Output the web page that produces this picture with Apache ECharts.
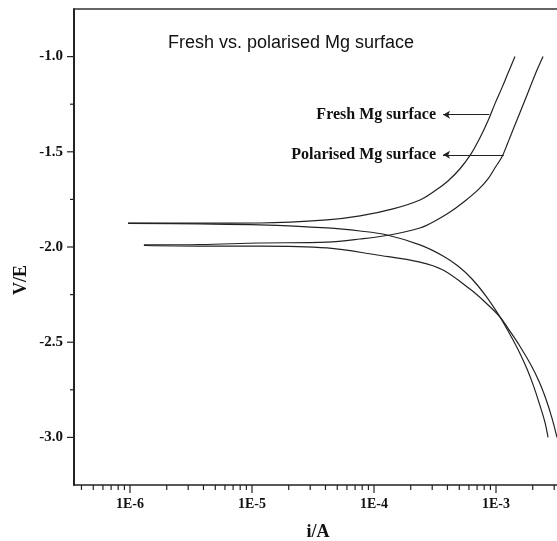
<!DOCTYPE html>
<html>
<head>
<meta charset="utf-8">
<script src="https://cdn.jsdelivr.net/npm/echarts@6/dist/echarts.min.js"></script>
<style>
html,body{margin:0;padding:0;background:#fff;}
#c{width:557px;height:541px;}
</style>
</head>
<body>
<div id="c"></div>
<script>
// ---------- chart data ----------
const titleText = 'Fresh vs. polarised Mg surface';
const xName = 'i/A';
const yName = 'V/E';
const xMin = 3.475e-7, xMax = 3.162e-3;
const yMin = -3.25, yMax = -0.75;

const xMajorTicks = [1e-6, 1e-5, 1e-4, 1e-3];
const xMinorTicks = [4e-7, 5e-7, 6e-7, 7e-7, 8e-7, 9e-7,
  2e-6, 3e-6, 4e-6, 5e-6, 6e-6, 7e-6, 8e-6, 9e-6,
  2e-5, 3e-5, 4e-5, 5e-5, 6e-5, 7e-5, 8e-5, 9e-5,
  2e-4, 3e-4, 4e-4, 5e-4, 6e-4, 7e-4, 8e-4, 9e-4,
  2e-3, 3e-3];
const yMajorTicks = [-3.0, -2.5, -2.0, -1.5, -1.0];
const yMinorTicks = [-2.75, -2.25, -1.75, -1.25];

// Fresh Mg surface
const freshAnodicI = [9.63e-7, 3.75e-6, 1.16e-5, 4.12e-5, 7.68e-5, 1.43e-4, 2.38e-4, 3.16e-4, 4.04e-4, 5.07e-4, 6.24e-4, 7.39e-4, 8.60e-4, 9.81e-4, 1.12e-3, 1.25e-3, 1.43e-3];
const freshAnodicE = [-1.875, -1.875, -1.874, -1.858, -1.837, -1.800, -1.753, -1.705, -1.653, -1.589, -1.511, -1.426, -1.337, -1.247, -1.163, -1.089, -1.000];
const freshCathodicI = [9.63e-7, 3.75e-6, 1.16e-5, 4.12e-5, 7.68e-5, 1.28e-4, 2.38e-4, 3.68e-4, 4.88e-4, 6.36e-4, 8.28e-4, 1.08e-3, 1.30e-3, 1.54e-3, 1.80e-3, 2.05e-3, 2.29e-3, 2.52e-3, 2.67e-3];
const freshCathodicE = [-1.876, -1.879, -1.884, -1.900, -1.916, -1.937, -1.989, -2.047, -2.100, -2.168, -2.258, -2.368, -2.458, -2.547, -2.642, -2.737, -2.832, -2.921, -3.000];

// Polarised Mg surface
const polAnodicI = [1.30e-6, 3.75e-6, 1.16e-5, 4.12e-5, 7.68e-5, 1.35e-4, 2.38e-4, 3.16e-4, 4.20e-4, 5.57e-4, 7.12e-4, 8.60e-4, 9.81e-4, 1.12e-3, 1.25e-3, 1.40e-3, 1.57e-3, 1.80e-3, 2.09e-3, 2.43e-3];
const polAnodicE = [-1.989, -1.987, -1.979, -1.974, -1.958, -1.937, -1.900, -1.863, -1.816, -1.758, -1.700, -1.642, -1.584, -1.526, -1.453, -1.374, -1.295, -1.200, -1.095, -1.000];
const polCathodicI = [1.30e-6, 3.75e-6, 1.16e-5, 4.12e-5, 1.06e-4, 2.38e-4, 3.68e-4, 6.12e-4, 8.12e-4, 1.08e-3, 1.30e-3, 1.57e-3, 1.90e-3, 2.25e-3, 2.57e-3, 2.88e-3, 3.16e-3];
const polCathodicE = [-1.992, -1.995, -1.995, -2.005, -2.042, -2.079, -2.121, -2.221, -2.289, -2.368, -2.442, -2.521, -2.611, -2.705, -2.800, -2.900, -3.000];

// Annotations (arrow from label to curve)
const annotationTexts = ['Fresh Mg surface', 'Polarised Mg surface'];
const arrowHeadI = [3.68e-4, 3.68e-4];
const arrowTailI = [8.80e-4, 1.16e-3];
const arrowE = [-1.305, -1.516];

// ---------- build ----------
const zip = (a, b) => a.map((v, i) => [v, b[i]]);
const serif = '"Liberation Serif","Times New Roman",serif';
const ink = '#111';

function tickSeries(points, dx, dy) {
  return {
    type: 'custom', silent: true, clip: false, animation: false, z: 4,
    data: points,
    renderItem: function (params, api) {
      const p = api.coord([api.value(0), api.value(1)]);
      return {
        type: 'line',
        shape: { x1: p[0], y1: p[1], x2: p[0] + dx, y2: p[1] + dy },
        style: { stroke: '#222', lineWidth: 1.2 }
      };
    }
  };
}

function curve(I, E, extra) {
  return Object.assign({
    type: 'line', data: zip(I, E), symbol: 'none', showSymbol: false,
    smooth: 0.35, animation: false, silent: true,
    lineStyle: { color: '#222', width: 1.2 }
  }, extra || {});
}

const markLineData = annotationTexts.map((t, k) => [
  { coord: [arrowHeadI[k], arrowE[k]], label: { formatter: t } },
  { coord: [arrowTailI[k], arrowE[k]] }
]);

const chart = echarts.init(document.getElementById('c'), null, { renderer: 'canvas' });
chart.setOption({
  animation: false,
  backgroundColor: '#fff',
  title: {
    text: titleText, left: 163, top: 29,
    textStyle: { fontFamily: '"Liberation Sans",Arial,sans-serif', fontSize: 18, fontWeight: 'normal', color: ink }
  },
  grid: { left: 74, right: 0, top: 9, bottom: 56, containLabel: false },
  xAxis: [{
    type: 'log', logBase: 10, min: xMin, max: xMax,
    axisLine: { show: true, lineStyle: { color: '#222', width: 1.5 } },
    axisTick: { show: false }, minorTick: { show: false },
    splitLine: { show: false }, minorSplitLine: { show: false },
    axisLabel: {
      showMinLabel: false, showMaxLabel: false, margin: 12,
      fontFamily: serif, fontWeight: 'bold', fontSize: 14, color: ink,
      formatter: function (v) {
        const e = Math.log10(v);
        return Math.abs(e - Math.round(e)) < 1e-6 ? '1E' + Math.round(e) : '';
      }
    }
  }, {
    type: 'value', position: 'top', min: 0, max: 1,
    axisLine: { show: true, lineStyle: { color: '#333', width: 1.5 } },
    axisTick: { show: false }, axisLabel: { show: false }, splitLine: { show: false }
  }],
  yAxis: {
    type: 'value', min: yMin, max: yMax, splitNumber: 5,
    axisLine: { show: true, lineStyle: { color: '#222', width: 2 } },
    axisTick: { show: false }, minorTick: { show: false }, splitLine: { show: false },
    axisLabel: {
      showMinLabel: false, showMaxLabel: false, margin: 11,
      fontFamily: serif, fontWeight: 'bold', fontSize: 15, color: ink,
      formatter: function (v) {
        return Math.abs(v * 2 - Math.round(v * 2)) < 1e-9 ? v.toFixed(1) : '';
      }
    }
  },
  graphic: [
    { type: 'text', x: 318, y: 532, style: { text: xName, align: 'center', verticalAlign: 'middle', font: 'bold 18px ' + serif, fill: ink } },
    { type: 'text', x: 21, y: 280, rotation: Math.PI / 2, style: { text: yName, align: 'center', verticalAlign: 'middle', font: 'bold 18px ' + serif, fill: ink } }
  ],
  series: [
    tickSeries(xMajorTicks.map(v => [v, yMin]), 0, 8),
    tickSeries(xMinorTicks.map(v => [v, yMin]), 0, 5),
    tickSeries(yMajorTicks.map(v => [xMin, v]), -7, 0),
    tickSeries(yMinorTicks.map(v => [xMin, v]), -4, 0),
    curve(freshAnodicI, freshAnodicE, {
      markLine: {
        silent: true, animation: false,
        symbol: ['arrow', 'none'], symbolSize: [6, 7],
        lineStyle: { color: '#222', width: 1, type: 'solid' },
        label: { show: true, position: 'start', distance: 7, fontFamily: serif, fontWeight: 'bold', fontSize: 16, color: ink },
        data: markLineData
      }
    }),
    curve(freshCathodicI, freshCathodicE),
    curve(polAnodicI, polAnodicE),
    curve(polCathodicI, polCathodicE)
  ]
});
</script>
</body>
</html>
